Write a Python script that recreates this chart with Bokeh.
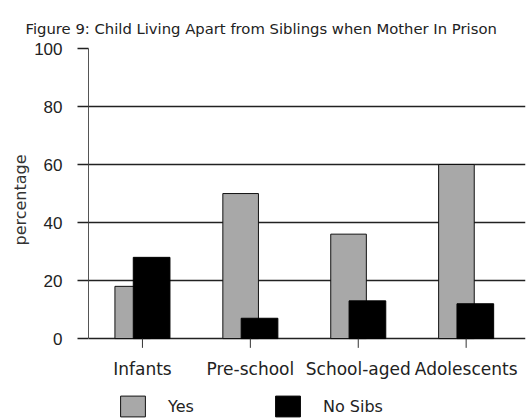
import numpy as np
from bokeh.plotting import figure
from bokeh.models import (Range1d, FixedTicker, Legend, LegendItem, Title)
from bokeh.core.properties import value
from bokeh.embed import file_html
from bokeh.resources import INLINE

# Share of children living apart from siblings, by age group (percent)
categories = ["Infants", "Pre-school", "School-aged", "Adolescents"]
yes_values = [18, 50, 36, 60]
no_sibs_values = [28, 7, 13, 12]
y_ticks = [0, 20, 40, 60, 80, 100]
title_text = "Figure 9: Child Living Apart from Siblings when Mother In Prison"

x = np.arange(len(categories))

# The frame runs down to the bottom edge so that the category labels and the
# legend sit inside it, below the zero line.
Y_LOW = -27.9
p = figure(width=530, height=419, output_backend="svg", toolbar_location=None,
           x_range=Range1d(-0.5, 3.55), y_range=Range1d(Y_LOW, 100),
           min_border_left=88, min_border_right=5,
           min_border_top=48, min_border_bottom=0)
p.outline_line_color = None
p.background_fill_color = "white"
p.border_fill_color = "white"

yes_r = p.vbar(x=x - 0.09, top=yes_values, width=0.33, bottom=0,
               fill_color="#a8a8a8", line_color="#111111", line_width=1)
no_r = p.vbar(x=x + 0.085, top=no_sibs_values, width=0.34, bottom=0,
              fill_color="black", line_color="black", line_width=1)

# Title
p.title.text = title_text
p.title.align = "left"
p.title.offset = -63
p.title.standoff = 23
p.title.text_font = "DejaVu Sans"
p.title.text_font_size = "14.8px"
p.title.text_font_style = "normal"
p.title.text_color = "#222222"

# Value axis and horizontal rules
p.xgrid.visible = False
p.ygrid.ticker = FixedTicker(ticks=y_ticks)
p.ygrid.grid_line_color = "#222222"
p.ygrid.grid_line_width = 1.5
p.ygrid.bounds = (0, 100)

p.yaxis.ticker = FixedTicker(ticks=y_ticks)
p.yaxis.bounds = (0, 100)
p.yaxis.axis_line_color = "#555555"
p.yaxis.axis_line_width = 1
p.yaxis.major_tick_in = 0
p.yaxis.major_tick_out = 11
p.yaxis.major_tick_line_color = "#222222"
p.yaxis.major_tick_line_width = 1.5
p.yaxis.minor_tick_line_color = None
p.yaxis.major_label_standoff = 15
p.yaxis.major_label_text_font = "Liberation Sans"
p.yaxis.major_label_text_font_size = "17px"
p.yaxis.major_label_text_color = "#222222"

# Axis title, centred on the 0-100 span rather than on the whole frame
p.add_layout(Title(text="percentage", align="left", offset=174, standoff=4,
                   text_font="DejaVu Sans", text_font_size="16px",
                   text_font_style="normal", text_color="#333333"), "left")

# Category axis drawn under the zero line
p.xaxis.visible = False
p.segment(x0=x, y0=0, x1=x, y1=-3.2, line_color="#333333", line_width=1)
p.text(x=x, y=-10.4, text=categories, text_align="center",
       text_baseline="middle", text_font=value("DejaVu Sans"),
       text_font_size="17px", text_color="#222222")

# Legend along the bottom
legend = Legend(items=[LegendItem(label="Yes", renderers=[yes_r]),
                       LegendItem(label="No Sibs", renderers=[no_r])],
                orientation="horizontal", location=(29, 0),
                glyph_width=31, glyph_height=26, label_standoff=20,
                label_width=97, spacing=7, padding=0, margin=0,
                border_line_color=None, background_fill_alpha=0,
                label_text_font="DejaVu Sans", label_text_font_size="16px",
                label_text_color="#222222")
p.add_layout(legend, "center")

open("out.html", "w").write(file_html(p, INLINE))
